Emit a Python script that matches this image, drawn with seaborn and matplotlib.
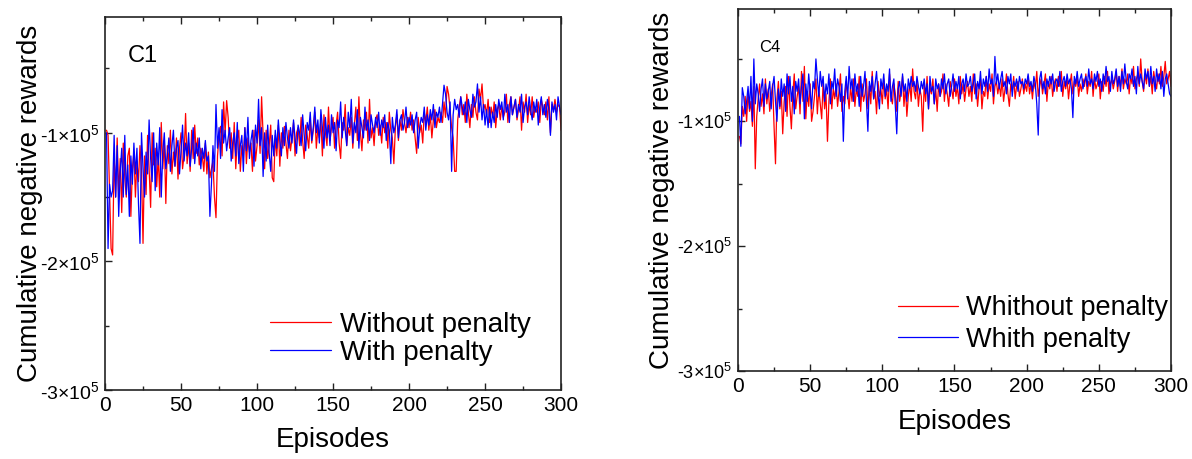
import numpy as np
import pandas as pd
import matplotlib
matplotlib.use("Agg")
import matplotlib.pyplot as plt
import seaborn as sns
from matplotlib.ticker import AutoMinorLocator

# values in thousands (cumulative negative reward / 1e3), episodes 1..300
c1_without = [
    -98, -102, -145, -190, -195, -118, -150, -104, -148, -120, -162, -108, -135, -150, -118, -112, -165, -128, -115, -150,
    -122, -138, -110, -130, -186, -118, -148, -102, -128, -158, -100, -125, -112, -142, -118, -150, -92, -128, -106, -155,
    -110, -124, -98, -132, -115, -126, -104, -136, -112, -100, -128, -118, -85, -124, -108, -130, -98, -120, -94, -116,
    -104, -125, -112, -118, -130, -108, -132, -115, -135, -128, -122, -150, -166, -118, -102, -95, -118, -76, -100, -75,
    -88, -112, -100, -120, -92, -128, -106, -98, -130, -110, -118, -96, -124, -104, -115, -108, -130, -98, -122, -110,
    -90, -116, -72, -102, -128, -98, -120, -110, -94, -135, -138, -102, -118, -94, -126, -100, -112, -95, -108, -120,
    -98, -114, -104, -92, -118, -100, -96, -110, -88, -106, -120, -94, -102, -112, -90, -108, -98, -84, -112, -96,
    -104, -90, -118, -86, -100, -110, -80, -106, -96, -88, -112, -94, -84, -108, -120, -92, -98, -78, -110, -96,
    -102, -88, -112, -94, -80, -106, -72, -100, -114, -90, -98, -84, -108, -74, -104, -96, -110, -90, -86, -102,
    -94, -108, -88, -100, -92, -112, -84, -98, -104, -124, -96, -86, -106, -90, -98, -82, -92, -100, -88, -96,
    -84, -98, -90, -104, -116, -88, -100, -94, -108, -84, -92, -80, -98, -86, -104, -90, -82, -96, -88, -92,
    -84, -92, -76, -88, -64, -70, -82, -96, -104, -130, -130, -90, -80, -72, -86, -78, -92, -70, -84, -96,
    -78, -88, -72, -84, -90, -66, -74, -62, -82, -78, -86, -74, -92, -80, -88, -76, -96, -82, -78, -90,
    -80, -88, -84, -70, -92, -78, -72, -86, -80, -74, -90, -82, -72, -98, -76, -84, -70, -92, -78, -86,
    -72, -88, -80, -84, -76, -92, -74, -80, -86, -76, -90, -72, -100, -78, -82, -74, -84, -78, -80, -98,
]
c1_with = [
    -100, -190, -140, -150, -145, -102, -150, -110, -165, -130, -112, -150, -102, -148, -125, -165, -118, -140, -108, -132,
    -112, -155, -186, -100, -128, -150, -115, -132, -90, -120, -138, -100, -145, -108, -125, -96, -150, -115, -100, -128,
    -118, -104, -130, -110, -98, -126, -112, -106, -132, -114, -94, -122, -108, -118, -100, -126, -112, -96, -124, -108,
    -118, -104, -128, -112, -120, -106, -122, -118, -165, -140, -110, -130, -78, -112, -96, -120, -82, -108, -98, -114,
    -104, -96, -122, -108, -100, -118, -92, -124, -110, -102, -130, -96, -114, -88, -120, -106, -98, -126, -94, -108,
    -74, -110, -96, -134, -100, -122, -94, -116, -130, -102, -118, -98, -112, -90, -106, -118, -96, -110, -92, -104,
    -112, -96, -108, -90, -104, -116, -94, -100, -110, -86, -102, -114, -92, -98, -84, -106, -96, -80, -100, -90,
    -108, -82, -96, -112, -88, -104, -94, -110, -86, -100, -92, -114, -90, -96, -76, -104, -88, -98, -110, -84,
    -96, -74, -108, -92, -100, -82, -112, -88, -96, -104, -80, -98, -90, -106, -86, -94, -100, -88, -96, -84,
    -102, -90, -96, -86, -106, -92, -98, -124, -88, -100, -94, -82, -104, -90, -86, -98, -92, -80, -96, -88,
    -94, -86, -100, -90, -84, -112, -96, -88, -92, -80, -98, -86, -94, -82, -90, -78, -96, -84, -88, -80,
    -92, -78, -63, -70, -84, -90, -76, -130, -86, -74, -82, -78, -88, -72, -80, -86, -76, -92, -74, -82,
    -88, -70, -80, -76, -62, -84, -72, -90, -78, -94, -82, -96, -80, -96, -84, -92, -78, -88, -74, -82,
    -76, -90, -70, -84, -78, -92, -72, -86, -80, -74, -88, -78, -84, -70, -92, -80, -76, -86, -72, -82,
    -90, -76, -84, -74, -94, -80, -72, -86, -78, -88, -74, -82, -102, -76, -84, -78, -90, -72, -80, -86,
]
c4_without = [
    -112, -118, -88, -96, -80, -100, -76, -92, -84, -104, -72, -138, -96, -82, -70, -88, -78, -94, -66, -86,
    -74, -92, -80, -70, -104, -134, -82, -68, -90, -76, -110, -84, -72, -96, -64, -88, -106, -78, -62, -90,
    -80, -72, -94, -60, -84, -56, -98, -76, -88, -70, -100, -92, -80, -66, -94, -74, -86, -98, -68, -90,
    -78, -116, -84, -66, -90, -74, -82, -70, -88, -76, -62, -92, -80, -86, -68, -78, -90, -72, -84, -66,
    -88, -74, -80, -64, -92, -70, -84, -78, -66, -90, -72, -86, -60, -82, -76, -94, -68, -80, -74, -86,
    -66, -82, -74, -90, -62, -80, -86, -70, -78, -92, -68, -84, -76, -64, -88, -72, -96, -80, -70, -84,
    -58, -76, -82, -68, -88, -74, -80, -108, -70, -84, -64, -90, -72, -78, -66, -86, -74, -92, -70, -80,
    -76, -62, -84, -70, -78, -88, -68, -74, -82, -66, -80, -72, -86, -64, -78, -70, -84, -74, -68, -80,
    -72, -84, -62, -78, -70, -88, -74, -66, -90, -76, -80, -64, -82, -70, -76, -62, -86, -72, -68, -78,
    -70, -80, -66, -84, -74, -62, -78, -88, -70, -76, -64, -82, -72, -68, -80, -74, -66, -78, -70, -76,
    -64, -78, -70, -82, -68, -74, -60, -80, -72, -66, -78, -70, -62, -84, -68, -74, -64, -80, -70, -66,
    -76, -64, -72, -60, -80, -68, -74, -66, -82, -70, -62, -78, -68, -72, -64, -80, -70, -76, -66, -72,
    -62, -78, -68, -72, -60, -80, -66, -74, -70, -62, -82, -68, -76, -64, -72, -60, -78, -70, -66, -74,
    -68, -60, -76, -64, -72, -58, -74, -66, -70, -62, -78, -64, -70, -56, -74, -66, -62, -72, -50, -68,
    -76, -62, -70, -58, -72, -64, -78, -60, -68, -74, -62, -70, -56, -72, -64, -52, -70, -66, -60, -72,
]
c4_with = [
    -96, -120, -73, -80, -94, -84, -72, -90, -64, -100, -50, -86, -70, -78, -92, -74, -66, -88, -70, -82,
    -76, -68, -90, -72, -64, -84, -100, -74, -88, -66, -80, -70, -92, -62, -78, -64, -84, -72, -94, -68,
    -76, -66, -86, -72, -62, -98, -70, -84, -62, -76, -90, -68, -74, -50, -66, -80, -60, -72, -64, -84,
    -70, -78, -62, -86, -68, -74, -58, -80, -66, -72, -84, -70, -116, -76, -64, -82, -56, -74, -66, -84,
    -62, -76, -70, -88, -64, -80, -72, -60, -84, -108, -68, -76, -64, -82, -70, -60, -78, -90, -66, -74,
    -62, -80, -70, -76, -58, -84, -72, -66, -88, -110, -74, -68, -80, -62, -76, -70, -84, -66, -74, -64,
    -72, -68, -76, -64, -72, -78, -68, -74, -66, -78, -70, -90, -64, -76, -72, -86, -66, -74, -70, -80,
    -66, -74, -62, -78, -70, -66, -80, -72, -62, -76, -68, -74, -64, -82, -70, -66, -76, -62, -72, -70,
    -64, -76, -70, -62, -82, -68, -74, -60, -78, -66, -72, -64, -76, -58, -70, -66, -80, -48, -70, -62,
    -74, -66, -60, -72, -68, -78, -64, -70, -62, -80, -68, -72, -66, -76, -64, -70, -68, -74, -66, -70,
    -62, -72, -68, -76, -64, -70, -86, -111, -66, -60, -74, -68, -78, -66, -72, -64, -70, -62, -76, -68,
    -66, -72, -60, -76, -68, -64, -72, -62, -70, -66, -74, -97, -64, -70, -60, -72, -66, -62, -74, -68,
    -64, -72, -58, -70, -66, -74, -62, -68, -60, -72, -66, -76, -62, -70, -56, -68, -64, -76, -60, -70,
    -66, -58, -72, -64, -76, -60, -70, -54, -68, -74, -62, -66, -58, -72, -64, -78, -56, -70, -62, -68,
    -74, -58, -66, -60, -72, -56, -70, -64, -76, -58, -68, -62, -74, -60, -80, -66, -62, -70, -78, -80,
]

episodes = np.arange(1, 301)
ytick_vals = [-3e5, -2e5, -1e5]
ytick_labels = ["-3×10$^5$", "-2×10$^5$", "-1×10$^5$"]
xtick_vals = [0, 50, 100, 150, 200, 250, 300]

RED = "#FF0000"
BLUE = "#0000FF"

sns.set_style("ticks")
plt.rcParams["font.family"] = ["Liberation Sans", "DejaVu Sans"]
plt.rcParams["mathtext.default"] = "regular"
for key in ["text.color", "axes.labelcolor", "xtick.color", "ytick.color"]:
    plt.rcParams[key] = "black"


def draw_panel(ax, without, with_, names, tag, tag_size, tick_size, ytick_size, leg_size,
               leg_anchor, leg_space):
    df = pd.DataFrame({"ep": episodes,
                       "without": np.array(without) * 1e3,
                       "with": np.array(with_) * 1e3})
    sns.lineplot(data=df, x="ep", y="without", color=RED, lw=0.9, ax=ax, label=names[0])
    sns.lineplot(data=df, x="ep", y="with", color=BLUE, lw=0.9, ax=ax, label=names[1])
    ax.set_xlim(0, 300)
    ax.set_ylim(-3e5, -1.0e4)
    ax.set_xticks(xtick_vals)
    ax.set_yticks(ytick_vals, ytick_labels)
    ax.xaxis.set_minor_locator(AutoMinorLocator(2))
    ax.yaxis.set_minor_locator(AutoMinorLocator(2))
    ax.tick_params(which="both", direction="in", top=True, right=False, color="#222222", width=1)
    ax.tick_params(which="major", length=5)
    ax.tick_params(which="minor", length=3)
    ax.tick_params(axis="x", labelsize=tick_size, pad=4)
    ax.tick_params(axis="y", labelsize=ytick_size, pad=4)
    for s in ax.spines.values():
        s.set_color("#222222")
        s.set_linewidth(1.2)
    ax.set_xlabel("Episodes", fontsize=20, color="black")
    ax.set_ylabel("Cumulative negative rewards", fontsize=20, color="black")
    ax.text(0.05, 0.895, tag, transform=ax.transAxes, fontsize=tag_size, ha="left", va="center",
            color="black")
    leg = ax.legend(frameon=False, loc="center left", bbox_to_anchor=leg_anchor, fontsize=leg_size,
                    handlelength=2.2, handletextpad=0.3, labelspacing=leg_space,
                    borderpad=0, borderaxespad=0)
    for t in leg.get_texts():
        t.set_color("black")


fig = plt.figure(figsize=(11.92, 4.59), dpi=100)
ax1 = fig.add_axes([0.0881, 0.1503, 0.3826, 0.8126])
ax2 = fig.add_axes([0.6191, 0.1917, 0.3633, 0.7887])

draw_panel(ax1, c1_without, c1_with, ["Without penalty", "With penalty"], "C1", 17, 15, 14, 20,
           (0.362, 0.137), 0.05)
draw_panel(ax2, c4_without, c4_with, ["Whithout penalty", "Whith penalty"], "C4", 12, 15, 13, 19.5,
           (0.37, 0.13), 0.2)

ax1.yaxis.set_label_coords(-0.135, 0.5)
ax1.xaxis.set_label_coords(0.5, -0.1)
ax2.yaxis.set_label_coords(-0.145, 0.5)
ax2.xaxis.set_label_coords(0.5, -0.105)

fig.savefig("out.png", dpi=100)
